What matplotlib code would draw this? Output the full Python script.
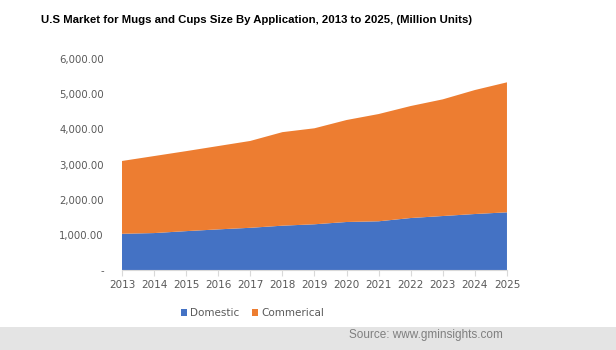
import matplotlib.pyplot as plt
from matplotlib.patches import Patch, Rectangle

years = list(range(2013, 2026))
domestic = [1030, 1050, 1105, 1155, 1200, 1260, 1300, 1365, 1385, 1478, 1535, 1592, 1640]
totals = [3100, 3240, 3380, 3525, 3670, 3920, 4030, 4265, 4435, 4663, 4853, 5118, 5337]
commercial = [t - d for t, d in zip(totals, domestic)]
y_ticks = [0, 1000, 2000, 3000, 4000, 5000, 6000]

label_color = '#595959'

fig = plt.figure(figsize=(6.16, 3.5), dpi=100)
ax = fig.add_axes([0.198, 0.2286, 0.625, 0.6028])

ax.stackplot(years, domestic, commercial, colors=['#4472C4', '#ED7D31'],
             edgecolor='none', linewidth=0)

ax.set_xlim(2013, 2025)
ax.set_ylim(0, 6000)
ax.set_yticks(y_ticks)
ax.set_yticklabels(['-' if v == 0 else f'{v:,.2f}' for v in y_ticks])
ax.set_xticks(years)
ax.set_xticklabels([str(y) for y in years])

for side in ['top', 'right', 'left']:
    ax.spines[side].set_visible(False)
ax.spines['bottom'].set_color('#d9d9d9')
ax.tick_params(axis='y', length=0, labelsize=7.3, labelcolor=label_color, pad=13)
ax.tick_params(axis='x', length=4, color='#d9d9d9', labelsize=7.5, labelcolor=label_color)

fig.text(0.416, 0.943, 'U.S Market for Mugs and Cups Size By Application, 2013 to 2025, (Million Units)',
         ha='center', va='center', fontsize=8.2, fontweight='bold', family='Liberation Sans')

legend_elements = [
    Patch(facecolor='#4472C4', label='Domestic'),
    Patch(facecolor='#ED7D31', label='Commerical'),
]
fig.legend(handles=legend_elements, loc='center', bbox_to_anchor=(0.41, 0.106), ncol=2,
           frameon=False, fontsize=7.5, labelcolor=label_color,
           handlelength=0.6, handleheight=0.6, handletextpad=0.3, columnspacing=1.2)

# grey source band at the bottom
fig.patches.append(Rectangle((0, 0), 1, 0.066, transform=fig.transFigure,
                             facecolor='#e4e4e4', edgecolor='none'))
fig.text(0.817, 0.043, 'Source: www.gminsights.com', ha='right', va='center',
         fontsize=8.5, color='#7f7f7f', family='Liberation Sans')

fig.savefig('out.png', dpi=100)
